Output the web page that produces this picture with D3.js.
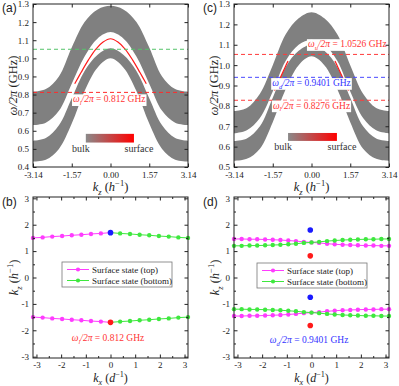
<!DOCTYPE html>
<html>
<head>
<meta charset="utf-8">
<script src="https://cdn.jsdelivr.net/npm/d3@7"></script>
<style>
    body { margin: 0; background: #fff; }
    svg { display: block; font-family: "Liberation Serif", "Times New Roman", serif; }
</style>
</head>
<body>
<svg id="fig" width="399" height="386"></svg>
<script>
// ---- band diagrams (a) and (c): kz grid and band edges (GHz)
const kzGrid = [-3.14, -2.62, -2.09, -1.57, -1.05, -0.52, 0, 0.52, 1.05, 1.57, 2.09, 2.62, 3.14];

const aUpperTop = [0.815, 0.83, 0.90, 1.06, 1.20, 1.27, 1.29, 1.27, 1.20, 1.06, 0.90, 0.83, 0.815];
const aUpperBottom = [0.632, 0.645, 0.71, 0.86, 1.01, 1.11, 1.145, 1.11, 1.01, 0.86, 0.71, 0.645, 0.632];
const aLowerTop = [0.545, 0.56, 0.63, 0.78, 0.93, 1.02, 1.055, 1.02, 0.93, 0.78, 0.63, 0.56, 0.545];
const aLowerBottom = [0.43, 0.44, 0.50, 0.64, 0.82, 0.95, 1.0, 0.95, 0.82, 0.64, 0.50, 0.44, 0.43];
const aSurfK = [-1.45, -1.2, -0.9, -0.6, -0.3, 0, 0.3, 0.6, 0.9, 1.2, 1.45];
const aSurfW = [0.86, 0.92, 0.99, 1.05, 1.09, 1.108, 1.09, 1.05, 0.99, 0.92, 0.86];

const cUpperTop = [0.775, 0.79, 0.86, 1.0, 1.15, 1.23, 1.26, 1.23, 1.15, 1.0, 0.86, 0.79, 0.775];
const cUpperBottom = [0.665, 0.68, 0.74, 0.87, 1.02, 1.10, 1.125, 1.10, 1.02, 0.87, 0.74, 0.68, 0.665];
const cLowerTop = [0.627, 0.64, 0.70, 0.84, 0.99, 1.07, 1.10, 1.07, 0.99, 0.84, 0.70, 0.64, 0.627];
const cLowerBottom = [0.53, 0.54, 0.59, 0.72, 0.88, 1.0, 1.043, 1.0, 0.88, 0.72, 0.59, 0.54, 0.53];
const cSurfLeftK = [-1.5, -1.35, -1.2, -1.05, -0.95];
const cSurfLeftW = [0.875, 0.915, 0.955, 0.995, 1.02];
const cSurfRightK = [0.95, 1.05, 1.2, 1.35, 1.5];
const cSurfRightW = [1.02, 0.995, 0.955, 0.915, 0.875];

const aLevels = [1.05, 0.812];
const cLevels = [1.0526, 0.9401, 0.8276];

// ---- iso-frequency contours (b) and (d)
const bKx = [-3.14, -2.75, -2.36, -1.96, -1.57, -1.18, -0.79, -0.39, 0];
const bTopMagenta = [1.50, 1.52, 1.55, 1.57, 1.60, 1.62, 1.65, 1.67, 1.70];
const bBotMagenta = [-1.50, -1.52, -1.55, -1.57, -1.60, -1.62, -1.65, -1.67, -1.70];
const bKxGreen = [0, 0.39, 0.79, 1.18, 1.57, 1.96, 2.36, 2.75, 3.14];
const bTopGreen = [1.70, 1.67, 1.65, 1.62, 1.60, 1.57, 1.55, 1.52, 1.50];
const bBotGreen = [-1.70, -1.67, -1.65, -1.62, -1.60, -1.57, -1.55, -1.52, -1.50];
const bBlue = [[0, 1.70]];
const bRed = [[0, -1.70]];

const dKx = [-3.14, -2.83, -2.51, -2.2, -1.88, -1.57, -1.26, -0.94, -0.63, -0.31, 0,
    0.31, 0.63, 0.94, 1.26, 1.57, 1.88, 2.2, 2.51, 2.83, 3.14];
const dTopMagenta = [1.46, 1.46, 1.45, 1.45, 1.44, 1.43, 1.42, 1.40, 1.38, 1.35, 1.33,
    1.31, 1.28, 1.26, 1.24, 1.23, 1.22, 1.21, 1.21, 1.20, 1.20];
const dTopGreen = [1.20, 1.20, 1.21, 1.21, 1.22, 1.23, 1.24, 1.26, 1.28, 1.31, 1.33,
    1.35, 1.38, 1.40, 1.42, 1.43, 1.44, 1.45, 1.45, 1.46, 1.46];
const dBotMagenta = [-1.46, -1.46, -1.45, -1.45, -1.44, -1.43, -1.42, -1.40, -1.38, -1.35, -1.33,
    -1.31, -1.28, -1.26, -1.24, -1.23, -1.22, -1.21, -1.21, -1.20, -1.20];
const dBotGreen = [-1.20, -1.20, -1.21, -1.21, -1.22, -1.23, -1.24, -1.26, -1.28, -1.31, -1.33,
    -1.35, -1.38, -1.40, -1.42, -1.43, -1.44, -1.45, -1.45, -1.46, -1.46];
const dBlue = [[-0.05, 1.80], [-0.05, -0.75]];
const dRed = [[-0.05, 0.82], [-0.05, -1.82]];

const kzTicks = [-3.14, -1.57, 0, 1.57, 3.14];
const aYTicks = [0.4, 0.5, 0.6, 0.7, 0.8, 0.9, 1.0, 1.1, 1.2, 1.3];
const cYTicks = [0.5, 0.6, 0.7, 0.8, 0.9, 1.0, 1.1, 1.2, 1.3];
const intTicks = [-3, -2, -1, 0, 1, 2, 3];
const halfTicks = [-2.5, -1.5, -0.5, 0.5, 1.5, 2.5];

const svg = d3.select("#fig");
const GRAY = "#808080";
const MAGENTA = "#ff3cff";
const GREEN = "#3ee83e";

// gradient for the bulk -> surface bar
const defs = svg.append("defs");
const grad = defs.append("linearGradient").attr("id", "bulkSurf");
grad.append("stop").attr("offset", "0%").attr("stop-color", "#8a8a8a");
grad.append("stop").attr("offset", "100%").attr("stop-color", "#ff0000");

// rich text: parts [{t, i, sub, sup}]
function rich(text, parts, size) {
    let shift = 0;
    parts.forEach(p => {
        let target = p.sub ? size * 0.28 : (p.sup ? -size * 0.38 : 0);
        let ts = text.append("tspan").text(p.t).attr("dy", target - shift);
        shift = target;
        if (p.sub || p.sup) ts.attr("font-size", size * 0.68);
        if (p.i) ts.attr("font-style", "italic");
    });
    return text;
}

function omegaLabel(sub, value) {
    return [{t: "ω", i: true}, {t: sub, i: true, sub: true}, {t: "/2π", i: true}, {t: " = " + value + " GHz"}];
}

function frame(g, x, y, o) {
    let [x0, x1] = x.range();
    let [y0, y1] = y.range();
    let style = (sel) => {
        sel.select(".domain").remove();
        sel.attr("font-family", null).attr("font-size", 9);
        sel.selectAll("line").attr("stroke", "#222");
        sel.selectAll("text").attr("fill", "#222");
    };
    if (o.xMinor) {
        g.append("g").attr("transform", `translate(0,${y0})`)
            .call(d3.axisBottom(x).tickValues(o.xMinor).tickSize(-2).tickFormat("")).call(style);
        g.append("g").attr("transform", `translate(0,${y1})`)
            .call(d3.axisTop(x).tickValues(o.xMinor).tickSize(-2).tickFormat("")).call(style);
    }
    if (o.yMinor) {
        g.append("g").attr("transform", `translate(${x0},0)`)
            .call(d3.axisLeft(y).tickValues(o.yMinor).tickSize(-2).tickFormat("")).call(style);
        g.append("g").attr("transform", `translate(${x1},0)`)
            .call(d3.axisRight(y).tickValues(o.yMinor).tickSize(-2).tickFormat("")).call(style);
    }
    g.append("g").attr("transform", `translate(0,${y0})`)
        .call(d3.axisBottom(x).tickValues(o.xTicks).tickSize(-3.5).tickPadding(o.xPad).tickFormat(o.xFmt)).call(style);
    g.append("g").attr("transform", `translate(0,${y1})`)
        .call(d3.axisTop(x).tickValues(o.xTicks).tickSize(-3.5).tickFormat("")).call(style);
    g.append("g").attr("transform", `translate(${x0},0)`)
        .call(d3.axisLeft(y).tickValues(o.yTicks).tickSize(-3.5).tickPadding(4).tickFormat(o.yFmt)).call(style);
    g.append("g").attr("transform", `translate(${x1},0)`)
        .call(d3.axisRight(y).tickValues(o.yTicks).tickSize(-3.5).tickFormat("")).call(style);
    g.append("rect")
        .attr("x", x0).attr("y", y1).attr("width", x1 - x0).attr("height", y0 - y1)
        .attr("fill", "none").attr("stroke", "#222").attr("stroke-width", 1);

    // axis titles
    rich(g.append("text").attr("x", (x0 + x1) / 2).attr("y", y0 + o.xTitleDy)
        .attr("text-anchor", "middle").attr("font-size", o.titleSize).attr("fill", "#222"), o.xTitle, o.titleSize);
    rich(g.append("text")
        .attr("transform", `translate(${x0 - o.yTitleDx},${(y0 + y1) / 2}) rotate(-90)`)
        .attr("text-anchor", "middle").attr("font-size", 12.5).attr("fill", "#222"), o.yTitle, 12.5);
    g.append("text").attr("x", x0 - o.tagDx).attr("y", y1 + o.tagDy)
        .attr("font-family", "Liberation Sans, Arial, sans-serif").attr("font-size", 12)
        .attr("fill", "#222").text(o.tag);
}

function labelBox(g, text) {
    let bb = text.node().getBBox();
    g.insert("rect", () => text.node())
        .attr("x", bb.x - 1).attr("y", bb.y).attr("width", bb.width + 2).attr("height", bb.height)
        .attr("fill", "#fff");
}

const kzTitle = [{t: "k", i: true}, {t: "z", i: true, sub: true}, {t: " ("}, {t: "h", i: true}, {t: "−1", sup: true}, {t: ")"}];
const kxTitle = [{t: "k", i: true}, {t: "x", i: true, sub: true}, {t: " ("}, {t: "d", i: true}, {t: "−1", sup: true}, {t: ")"}];
const wTitle = [{t: "ω/2π", i: true}, {t: " (GHz)"}];

function bandPanel(o) {
    let g = svg.append("g");
    let x = d3.scaleLinear().domain([-3.14, 3.14]).range(o.xr);
    let y = d3.scaleLinear().domain(o.ydom).range(o.yr);
    let area = (top, bot) => d3.area()
        .x((d, i) => x(kzGrid[i]))
        .y0((d, i) => y(bot[i]))
        .y1((d, i) => y(top[i]))
        .curve(d3.curveCatmullRom)(kzGrid);
    let clip = "clip" + o.tag.replace(/\W/g, "");
    defs.append("clipPath").attr("id", clip).append("rect")
        .attr("x", o.xr[0]).attr("y", o.yr[1]).attr("width", o.xr[1] - o.xr[0]).attr("height", o.yr[0] - o.yr[1]);
    let plot = g.append("g").attr("clip-path", `url(#${clip})`);
    plot.append("path").attr("d", area(o.upperTop, o.upperBottom)).attr("fill", GRAY);
    plot.append("path").attr("d", area(o.lowerTop, o.lowerBottom)).attr("fill", GRAY);
    let line = d3.line().x(d => x(d[0])).y(d => y(d[1])).curve(d3.curveCatmullRom);
    o.surf.forEach(s => {
        plot.append("path").attr("d", line(d3.zip(s[0], s[1])))
            .attr("fill", "none").attr("stroke", "#ff1a1a").attr("stroke-width", 1.2);
    });
    o.levels.forEach((lv, i) => {
        plot.append("line").attr("x1", o.xr[0]).attr("x2", o.xr[1]).attr("y1", y(lv)).attr("y2", y(lv))
            .attr("stroke", o.levelColors[i]).attr("stroke-width", 1).attr("stroke-dasharray", "4,3");
    });
    o.labels.forEach(l => {
        let t = rich(g.append("text").attr("x", x(l.k)).attr("y", y(l.w)).attr("text-anchor", "middle")
            .attr("font-size", 9.5).attr("fill", l.color), omegaLabel(l.sub, l.value), 9.5);
        labelBox(g, t);
    });
    // bulk/surface bar
    let [b0, b1, bLo, bHi] = o.bar;
    g.append("rect").attr("x", x(b0)).attr("y", y(bHi)).attr("width", x(b1) - x(b0))
        .attr("height", y(bLo) - y(bHi)).attr("fill", "url(#bulkSurf)");
    g.append("text").attr("x", x(b0) - 5).attr("y", y(bLo) + 9).attr("text-anchor", "middle")
        .attr("font-size", 10).attr("fill", "#333").text("bulk");
    g.append("text").attr("x", x(b1) + 5).attr("y", y(bLo) + 9).attr("text-anchor", "middle")
        .attr("font-size", 10).attr("fill", "#333").text("surface");
    frame(g, x, y, {
        xTicks: kzTicks, yTicks: o.yTicks, xPad: 5,
        xFmt: d => d.toFixed(2), yFmt: d => d.toFixed(1),
        xTitle: kzTitle, yTitle: wTitle, xTitleDy: 24, titleSize: 12.5, yTitleDx: 16, tag: o.tag, tagDx: 31, tagDy: 8
    });
}

function contourPanel(o) {
    let g = svg.append("g");
    let x = d3.scaleLinear().domain([-3.14, 3.14]).range(o.xr);
    let y = d3.scaleLinear().domain([-3.05, 3.05]).range(o.yr);
    let line = d3.line().x(d => x(d[0])).y(d => y(d[1])).curve(d3.curveMonotoneX);
    o.series.forEach(s => {
        let pts = d3.zip(s.kx, s.kz);
        g.append("path").attr("d", line(pts)).attr("fill", "none").attr("stroke", s.color).attr("stroke-width", 1);
        g.selectAll(null).data(pts).join("circle")
            .attr("cx", d => x(d[0])).attr("cy", d => y(d[1])).attr("r", 2.2).attr("fill", s.color);
    });
    o.blue.forEach(d => g.append("circle").attr("cx", x(d[0])).attr("cy", y(d[1])).attr("r", 2.8).attr("fill", "#1a1aff"));
    o.red.forEach(d => g.append("circle").attr("cx", x(d[0])).attr("cy", y(d[1])).attr("r", 2.8).attr("fill", "#ff1a1a"));

    // legend
    let lg = g.append("g").attr("transform", `translate(${o.legend[0]},${o.legend[1]})`);
    lg.append("rect").attr("width", 110).attr("height", 25).attr("fill", "#fff").attr("stroke", "#777").attr("stroke-width", 0.8);
    [["Surface state (top)", MAGENTA], ["Surface state (bottom)", GREEN]].forEach((e, i) => {
        let yy = 7.5 + i * 11;
        lg.append("line").attr("x1", 5).attr("x2", 27).attr("y1", yy).attr("y2", yy).attr("stroke", e[1]);
        lg.append("circle").attr("cx", 16).attr("cy", yy).attr("r", 2.1).attr("fill", e[1]);
        lg.append("text").attr("x", 30).attr("y", yy + 3).attr("font-size", 9).attr("fill", "#222").text(e[0]);
    });
    let lab = o.label;
    rich(g.append("text").attr("x", x(lab.k)).attr("y", y(lab.kz)).attr("text-anchor", "middle")
        .attr("font-size", 9.5).attr("fill", lab.color), omegaLabel(lab.sub, lab.value), 9.5);

    frame(g, x, y, {
        xTicks: intTicks, yTicks: intTicks, xMinor: halfTicks, yMinor: halfTicks, xPad: 3.5,
        xFmt: d => String(d), yFmt: d => String(d),
        xTitle: kxTitle, yTitle: kzTitle, xTitleDy: 24, titleSize: 12, yTitleDx: 15, tag: o.tag, tagDx: 31, tagDy: 9
    });
}

bandPanel({
    tag: "(a)", xr: [33, 188], yr: [167, 4], ydom: [0.4, 1.3], yTicks: aYTicks,
    upperTop: aUpperTop, upperBottom: aUpperBottom, lowerTop: aLowerTop, lowerBottom: aLowerBottom,
    surf: [[aSurfK, aSurfW]],
    levels: aLevels, levelColors: ["#55c46a", "#ff2a2a"],
    labels: [{k: -0.05, w: 0.757, sub: "l", value: "0.812", color: "#ff3333"}],
    bar: [-1.0, 0.95, 0.535, 0.583]
});

bandPanel({
    tag: "(c)", xr: [234, 389], yr: [167, 4], ydom: [0.5, 1.3], yTicks: cYTicks,
    upperTop: cUpperTop, upperBottom: cUpperBottom, lowerTop: cLowerTop, lowerBottom: cLowerBottom,
    surf: [[cSurfLeftK, cSurfLeftW], [cSurfRightK, cSurfRightW]],
    levels: cLevels, levelColors: ["#ff3a3a", "#4a4aff", "#ff3a3a"],
    labels: [
        {k: 1.45, w: 1.088, sub: "u", value: "1.0526", color: "#ff3333"},
        {k: 0.0, w: 0.897, sub: "d", value: "0.9401", color: "#3333ff"},
        {k: 0.0, w: 0.787, sub: "l", value: "0.8276", color: "#ff3333"}
    ],
    bar: [-0.95, 1.03, 0.628, 0.667]
});

contourPanel({
    tag: "(b)", xr: [33, 188], yr: [358, 197],
    series: [
        {kx: bKx, kz: bTopMagenta, color: MAGENTA},
        {kx: bKxGreen, kz: bTopGreen, color: GREEN},
        {kx: bKx, kz: bBotMagenta, color: MAGENTA},
        {kx: bKxGreen, kz: bBotGreen, color: GREEN}
    ],
    blue: bBlue, red: bRed,
    legend: [62, 262],
    label: {k: -0.1, kz: -2.4, sub: "l", value: "0.812", color: "#ff3333"}
});

contourPanel({
    tag: "(d)", xr: [234, 389], yr: [358, 197],
    series: [
        {kx: dKx, kz: dTopMagenta, color: MAGENTA},
        {kx: dKx, kz: dTopGreen, color: GREEN},
        {kx: dKx, kz: dBotMagenta, color: MAGENTA},
        {kx: dKx, kz: dBotGreen, color: GREEN}
    ],
    blue: dBlue, red: dRed,
    legend: [257, 263],
    label: {k: -0.1, kz: -2.5, sub: "d", value: "0.9401", color: "#3333ff"}
});
</script>
</body>
</html>
